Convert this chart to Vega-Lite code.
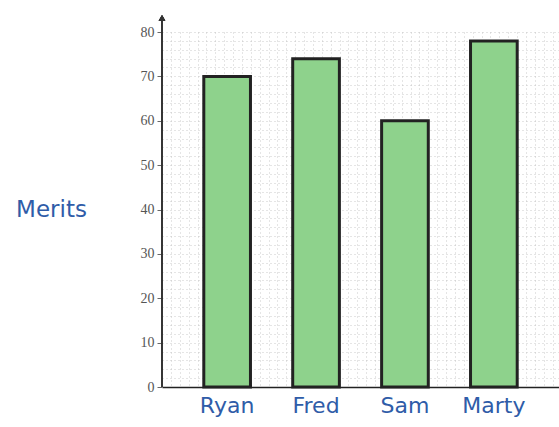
{
  "$schema": "https://vega.github.io/schema/vega-lite/v6.json",
  "width": 397,
  "height": 355,
  "autosize": {"type": "none"},
  "padding": {"left": 162, "top": 32, "right": 0, "bottom": 40},
  "background": "white",
  "config": {"view": {"stroke": null}},
  "data": {"values": [
    {"name": "Ryan", "merits": 70},
    {"name": "Fred", "merits": 74},
    {"name": "Sam", "merits": 60},
    {"name": "Marty", "merits": 78}
  ]},
  "resolve": {"scale": {"x": "independent"}, "axis": {"x": "independent"}},
  "layer": [
    {
      "mark": {"type": "point", "opacity": 0},
      "encoding": {
        "x": {"datum": 0, "type": "quantitative",
          "scale": {"domain": [0, 44.73], "nice": false, "zero": false},
          "axis": {"orient": "bottom", "values": [0,1,2,3,4,5,6,7,8,9,10,11,12,13,14,15,16,17,18,19,20,21,22,23,24,25,26,27,28,29,30,31,32,33,34,35,36,37,38,39,40,41,42,43,44],
            "labels": false, "ticks": false, "domain": false, "title": null,
            "grid": true, "gridColor": "#bdbdbd", "gridDash": [1, 3], "gridWidth": 0.8}},
        "y": {"datum": 0, "type": "quantitative", "scale": {"domain": [0, 80], "nice": false},
          "axis": {
            "values": [0,2,4,6,8,10,12,14,16,18,20,22,24,26,28,30,32,34,36,38,40,42,44,46,48,50,52,54,56,58,60,62,64,66,68,70,72,74,76,78,80],
            "labelExpr": "datum.value % 10 == 0 ? datum.label : ''",
            "labelOverlap": false,
            "labelFont": "Liberation Serif", "labelFontSize": 14, "labelColor": "#555555", "labelPadding": 3,
            "tickSize": 5, "tickColor": "#666666",
            "tickOpacity": {"condition": {"test": "datum.value % 10 == 0", "value": 1}, "value": 0},
            "domain": false,
            "grid": true, "gridColor": "#bdbdbd", "gridDash": [1, 3], "gridWidth": 0.8,
            "title": "Merits", "titleAngle": 0, "titleX": -111, "titleY": 177,
            "titleAlign": "center", "titleBaseline": "middle",
            "titleFont": "DejaVu Sans", "titleFontSize": 23, "titleFontWeight": "normal", "titleColor": "#2f5ca8"
          }}
      }
    },
    {
      "mark": {"type": "rule", "color": "#333333", "strokeWidth": 1.3},
      "encoding": {
        "x": {"datum": 0, "type": "quantitative", "scale": {"domain": [0, 44.73], "nice": false, "zero": false}, "axis": null},
        "y": {"datum": 0, "type": "quantitative",
          "axis": {
            "values": [0,2,4,6,8,10,12,14,16,18,20,22,24,26,28,30,32,34,36,38,40,42,44,46,48,50,52,54,56,58,60,62,64,66,68,70,72,74,76,78,80],
            "labelExpr": "datum.value % 10 == 0 ? datum.label : ''",
            "labelOverlap": false,
            "labelFont": "Liberation Serif", "labelFontSize": 14, "labelColor": "#555555", "labelPadding": 3,
            "tickSize": 5, "tickColor": "#666666",
            "tickOpacity": {"condition": {"test": "datum.value % 10 == 0", "value": 1}, "value": 0},
            "domain": false,
            "grid": true, "gridColor": "#bdbdbd", "gridDash": [1, 3], "gridWidth": 0.8,
            "title": "Merits", "titleAngle": 0, "titleX": -111, "titleY": 177,
            "titleAlign": "center", "titleBaseline": "middle",
            "titleFont": "DejaVu Sans", "titleFontSize": 23, "titleFontWeight": "normal", "titleColor": "#2f5ca8"
          }},
        "y2": {"datum": 83}
      }
    },
    {
      "mark": {"type": "point", "shape": "triangle-up", "filled": true, "color": "#333333", "size": 45, "opacity": 1},
      "encoding": {
        "x": {"datum": 0, "type": "quantitative", "scale": {"domain": [0, 44.73], "nice": false, "zero": false}, "axis": null},
        "y": {"datum": 83.2, "type": "quantitative",
          "axis": {
            "values": [0,2,4,6,8,10,12,14,16,18,20,22,24,26,28,30,32,34,36,38,40,42,44,46,48,50,52,54,56,58,60,62,64,66,68,70,72,74,76,78,80],
            "labelExpr": "datum.value % 10 == 0 ? datum.label : ''",
            "labelOverlap": false,
            "labelFont": "Liberation Serif", "labelFontSize": 14, "labelColor": "#555555", "labelPadding": 3,
            "tickSize": 5, "tickColor": "#666666",
            "tickOpacity": {"condition": {"test": "datum.value % 10 == 0", "value": 1}, "value": 0},
            "domain": false,
            "grid": true, "gridColor": "#bdbdbd", "gridDash": [1, 3], "gridWidth": 0.8,
            "title": "Merits", "titleAngle": 0, "titleX": -111, "titleY": 177,
            "titleAlign": "center", "titleBaseline": "middle",
            "titleFont": "DejaVu Sans", "titleFontSize": 23, "titleFontWeight": "normal", "titleColor": "#2f5ca8"
          }}
      }
    },
    {
      "mark": {"type": "bar", "fill": "#8ed28c", "stroke": "#222222", "strokeWidth": 3},
      "encoding": {
        "x": {"field": "name", "type": "nominal", "sort": null,
          "scale": {"paddingInner": 0.475, "paddingOuter": 0.47},
          "axis": {"orient": "bottom", "title": null, "labelAngle": 0, "ticks": false,
            "domainColor": "#222222", "domainWidth": 1.5,
            "labelFont": "DejaVu Sans", "labelFontSize": 22, "labelColor": "#2f5ca8", "labelPadding": 8}},
        "y": {"field": "merits", "type": "quantitative",
          "axis": {
            "values": [0,2,4,6,8,10,12,14,16,18,20,22,24,26,28,30,32,34,36,38,40,42,44,46,48,50,52,54,56,58,60,62,64,66,68,70,72,74,76,78,80],
            "labelExpr": "datum.value % 10 == 0 ? datum.label : ''",
            "labelOverlap": false,
            "labelFont": "Liberation Serif", "labelFontSize": 14, "labelColor": "#555555", "labelPadding": 3,
            "tickSize": 5, "tickColor": "#666666",
            "tickOpacity": {"condition": {"test": "datum.value % 10 == 0", "value": 1}, "value": 0},
            "domain": false,
            "grid": true, "gridColor": "#bdbdbd", "gridDash": [1, 3], "gridWidth": 0.8,
            "title": "Merits", "titleAngle": 0, "titleX": -111, "titleY": 177,
            "titleAlign": "center", "titleBaseline": "middle",
            "titleFont": "DejaVu Sans", "titleFontSize": 23, "titleFontWeight": "normal", "titleColor": "#2f5ca8"
          }}
      }
    }
  ]
}
